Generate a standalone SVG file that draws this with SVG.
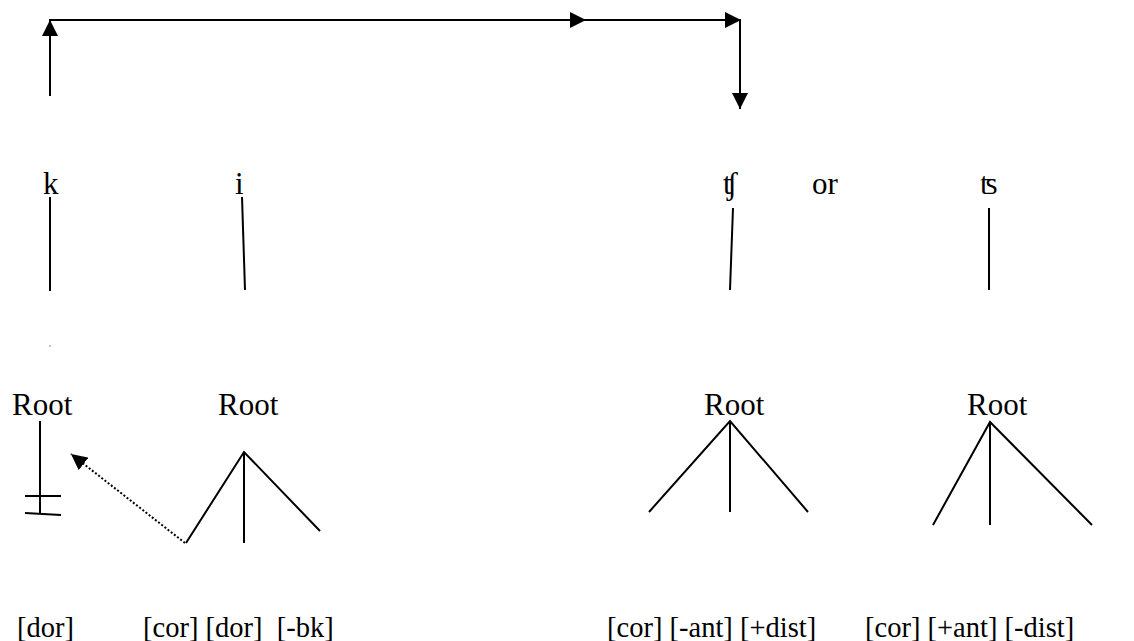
<svg xmlns="http://www.w3.org/2000/svg" width="1134" height="641" viewBox="0 0 1134 641">
  <style>
    .t { font-family: "Liberation Serif", "DejaVu Serif", serif; font-size: 31px; fill: #000; }
    .f { font-family: "Liberation Serif", "DejaVu Serif", serif; font-size: 28.5px; fill: #000; white-space: pre; }
    .ln { stroke: #000; stroke-width: 2; fill: none; }
    .dot { stroke: #000; stroke-width: 2; fill: none; stroke-dasharray: 2 2; }
  </style>
  <defs>
    <marker id="head" markerUnits="userSpaceOnUse" markerWidth="16" markerHeight="16" viewBox="0 0 16 16" refX="16" refY="8" orient="auto">
      <path d="M0,0 L16,8 L0,16 z" fill="#000"/>
    </marker>
  </defs>
  <rect width="1134" height="641" fill="#fff"/>

  <!-- association path across the top, segment links and the spreading arrow -->
  <g id="connectors">
    <line class="ln" x1="50" y1="96" x2="50" y2="20" marker-end="url(#head)"/>
    <line class="ln" x1="49" y1="20" x2="586" y2="20" marker-end="url(#head)"/>
    <line class="ln" x1="586" y1="20" x2="741" y2="20" marker-end="url(#head)"/>
    <line class="ln" x1="740" y1="19" x2="740" y2="109" marker-end="url(#head)"/>
    <line class="ln" x1="50" y1="197" x2="50" y2="291"/>
    <line class="ln" x1="242" y1="197" x2="245" y2="290"/>
    <line class="ln" x1="733" y1="208" x2="730" y2="290"/>
    <line class="ln" x1="989" y1="208" x2="989" y2="290"/>
    <line class="dot" x1="185" y1="543" x2="71" y2="454" marker-end="url(#head)"/>
  </g>

  <g id="seg-k">
    <text class="t" x="43" y="194">k</text>
    <rect x="49.5" y="345.5" width="1" height="1" fill="#000"/>
  </g>
  <g id="seg-i">
    <text class="t" x="235" y="194">i</text>
  </g>
  <g id="seg-tsh">
    <text class="t" x="723" y="194">ʧ</text>
  </g>
  <g id="or">
    <text class="t" x="812" y="194">or</text>
  </g>
  <g id="seg-ts">
    <text class="t" x="980" y="194">ʦ</text>
  </g>

  <g id="root-k">
    <text class="t" x="12" y="415">Root</text>
    <line class="ln" x1="40" y1="421" x2="40" y2="513"/>
    <line class="ln" x1="25" y1="496" x2="61" y2="496"/>
    <line class="ln" x1="25" y1="513" x2="61" y2="515"/>
    <text class="f" x="17" y="637">[dor]</text>
  </g>

  <g id="root-i">
    <text class="t" x="218" y="415">Root</text>
    <path class="ln" d="M186,543 L244,452 L320,531 M244,452 L244,543"/>
    <text class="f" x="143" y="637">[cor] [dor]  [-bk]</text>
  </g>

  <g id="root-tsh">
    <text class="t" x="704" y="415">Root</text>
    <path class="ln" d="M649,512 L730,421 L808,512 M730,421 L730,512"/>
    <text class="f" x="607" y="637">[cor] [-ant] [+dist]</text>
  </g>

  <g id="root-ts">
    <text class="t" x="967" y="415">Root</text>
    <path class="ln" d="M933,525 L990,422 L1092,525 M990,422 L990,525"/>
    <text class="f" x="865" y="637">[cor] [+ant] [-dist]</text>
  </g>
</svg>
